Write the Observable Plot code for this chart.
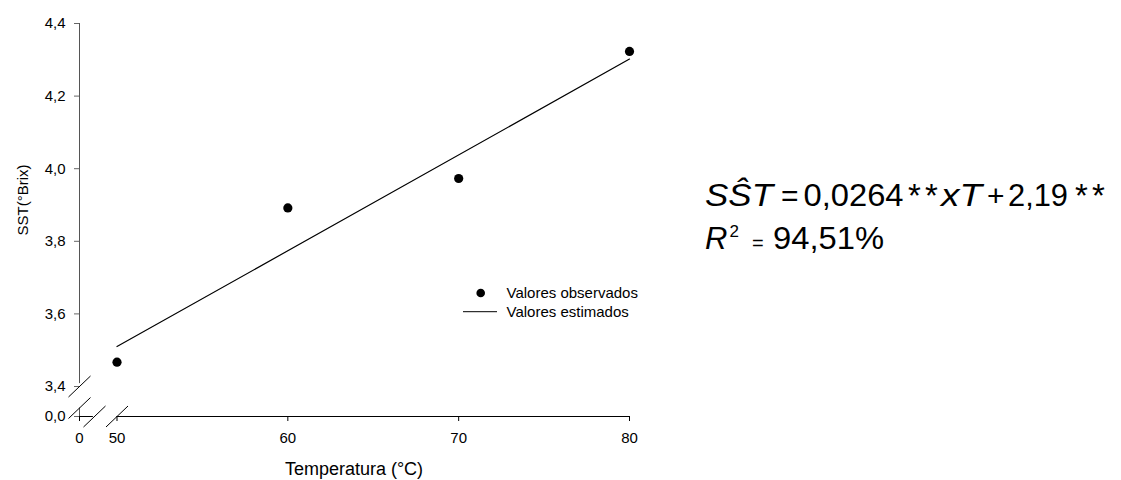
<!DOCTYPE html>
<html><head><meta charset="utf-8">
<script src="https://cdn.jsdelivr.net/npm/d3@7"></script>
<script src="https://cdn.jsdelivr.net/npm/@observablehq/plot@0.6"></script>
<style>
body{margin:0;background:#fff;font-family:"Liberation Sans",Arial,sans-serif;}
#wrap{position:relative;width:1121px;height:480px;}
#wrap svg.over{position:absolute;left:0;top:0;pointer-events:none;}
[aria-label="y-axis tick"]{stroke:#666;}
</style></head><body><div id="wrap"></div>
<script>
// ---- data ----
const temps = [50, 60, 70, 80];
const sstObs = [3.467, 3.892, 3.973, 4.323];
const coefSlope = 0.0264;
const coefIntercept = 2.19;
const xTicks = [0, 50, 60, 70, 80];
const xTickLabels = ["0", "50", "60", "70", "80"];
const yTicks = [0, 3.4, 3.6, 3.8, 4.0, 4.2, 4.4];
const yTickLabels = ["0,0", "3,4", "3,6", "3,8", "4,0", "4,2", "4,4"];
const xLabel = "Temperatura (°C)";
const yLabel = "SST(°Brix)";
const legendLabels = ["Valores observados", "Valores estimados"];
const eqCoefs = ["0,0264", "2,19"];
const r2Text = "94,51%";

// ---- layout ----
const W = 1121, H = 480, mL = 79, mR = 492, mT = 23, mB = 64;
const xGap = 37.5, yGap = 30;
const xDomain = [0, 50, 80], yDomain = [0, 3.4, 4.4];
const xRange = [mL, mL + xGap, W - mR];
const yRange = [H - mB, H - mB - yGap, mT];

const obs = temps.map((t, i) => ({t, v: sstObs[i]}));
const fit = [temps[0], temps[temps.length - 1]].map(t => ({t, v: coefSlope * t + coefIntercept}));

const slash = {draw(ctx) { ctx.moveTo(-11, 10.5); ctx.lineTo(11, -10.5); }};
const xBreaks = [{x: 20, y: 0}, {x: 50, y: 0}];
const yBreaks = [{x: 0, y: 3.4}, {x: 0, y: 0.96}];

const plot = Plot.plot({
  width: W, height: H,
  marginLeft: mL, marginRight: mR, marginTop: mT, marginBottom: mB,
  style: {fontFamily: '"Liberation Sans", Arial, sans-serif', fontSize: "15px", color: "black", background: "white", overflow: "visible"},
  x: {type: "linear", domain: xDomain, range: xRange, ticks: xTicks,
      tickFormat: d => xTickLabels[xTicks.indexOf(d)], tickSize: 5, tickPadding: 11, label: null},
  y: {type: "linear", domain: yDomain, range: yRange, ticks: yTicks,
      tickFormat: d => yTickLabels[yTicks.indexOf(d)], tickSize: 5, tickPadding: 9, label: null},
  marks: [
    Plot.ruleX([0], {y1: 3.408, y2: 4.4, stroke: "#555"}),
    Plot.ruleX([0], {y1: 0, y2: 0.96, stroke: "#555"}),
    Plot.ruleY([0], {x1: 0, x2: 18.5, stroke: "black"}),
    Plot.ruleY([0], {x1: 50, x2: 80, stroke: "black"}),
    Plot.dot(xBreaks, {x: "x", y: "y", symbol: slash, fill: "none", stroke: "black", strokeWidth: 1}),
    Plot.dot(yBreaks, {x: "x", y: "y", symbol: slash, fill: "none", stroke: "black", strokeWidth: 1}),
    Plot.line(fit, {x: "t", y: "v", stroke: "black", strokeWidth: 1.2}),
    Plot.dot(obs, {x: "t", y: "v", r: 4.6, fill: "black", stroke: "none"})
  ]
});
const wrap = document.getElementById("wrap");
wrap.appendChild(plot);

// overlay: axis titles, legend, equation
const over = d3.select(wrap).append("svg").attr("class", "over")
  .attr("width", W).attr("height", H)
  .style("font-family", '"Liberation Sans", Arial, sans-serif');

over.append("text").attr("x", (mL + W - mR) / 2).attr("y", 475).attr("text-anchor", "middle")
  .attr("font-size", 18).text(xLabel);
over.append("text").attr("transform", "translate(28,200) rotate(-90)").attr("text-anchor", "middle")
  .attr("font-size", 15).text(yLabel);

over.append("circle").attr("cx", 480.7).attr("cy", 293).attr("r", 4.3).attr("fill", "black");
over.append("line").attr("x1", 463).attr("x2", 497).attr("y1", 311.7).attr("y2", 311.7).attr("stroke", "black");
over.append("text").attr("x", 506.5).attr("y", 298.3).attr("font-size", 15).text(legendLabels[0]);
over.append("text").attr("x", 506.5).attr("y", 316.8).attr("font-size", 15).text(legendLabels[1]);

function piece(x, y, txt, opts = {}) {
  const t = over.append("text").attr("x", x).attr("y", y).attr("font-size", opts.size || 31).text(txt);
  if (opts.italic) t.attr("font-style", "italic");
  if (opts.len) t.attr("textLength", opts.len).attr("lengthAdjust", "spacingAndGlyphs");
  return t;
}
const b1 = 206, b2 = 249;
piece(705, b1, "SŜT", {italic: true, len: 68});
piece(781, b1, "=", {size: 30});
piece(803.5, b1, eqCoefs[0], {len: 100});
piece(908, b1 + 1, "*", {size: 33});
piece(925, b1 + 1, "*", {size: 33});
piece(941, b1, "xT", {italic: true, len: 41});
piece(987, b1, "+", {size: 30});
piece(1008, b1, eqCoefs[1], {len: 60});
piece(1075, b1 + 1, "*", {size: 33});
piece(1092, b1 + 1, "*", {size: 33});

piece(705, b2, "R", {italic: true});
piece(729.5, b2 - 12.5, "2", {size: 17});
piece(752, b2 + 1, "=", {size: 20});
piece(773, b2, r2Text, {len: 111});
</script></body></html>
